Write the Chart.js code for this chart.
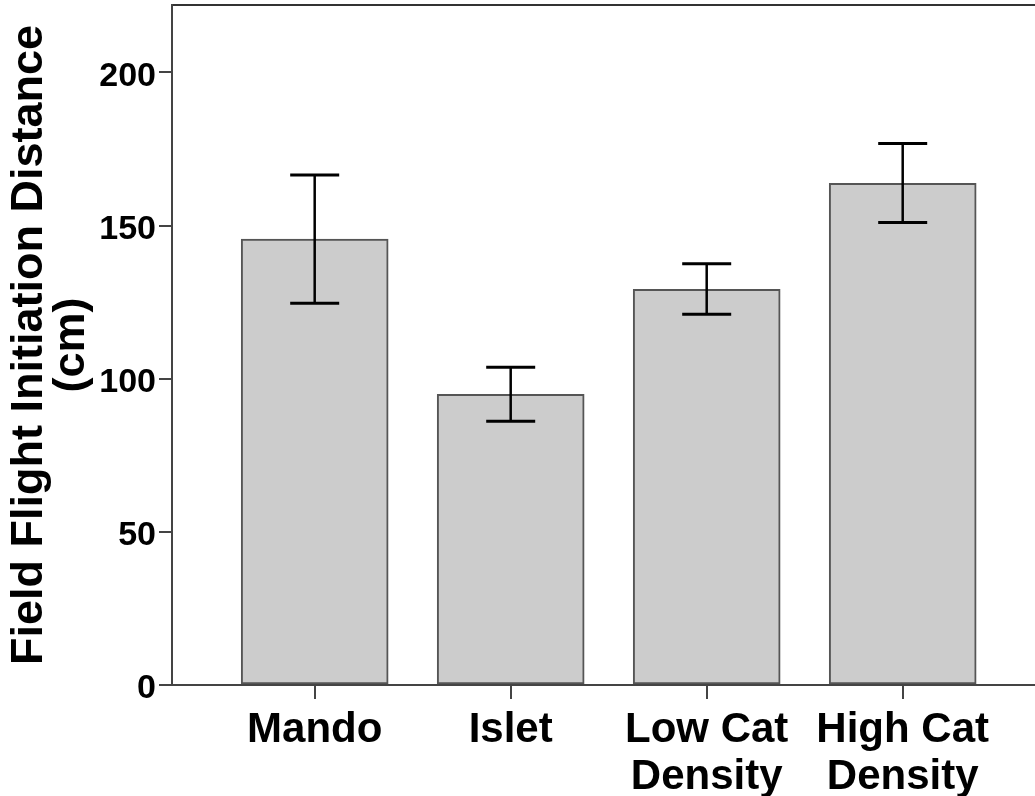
<!DOCTYPE html>
<html>
<head>
<meta charset="utf-8">
<script src="https://cdn.jsdelivr.net/npm/chart.js@4.4.1/dist/chart.umd.min.js"></script>
<style>
  html, body { margin: 0; padding: 0; background: #fff; overflow: hidden; }
  canvas { display: block; }
</style>
</head>
<body>
<canvas id="fid" width="1035" height="796"></canvas>
<script>
// Flight initiation distance by site group (mean with interval bounds)
const categories = ['Mando', 'Islet', ['Low Cat', 'Density'], ['High Cat', 'Density']];
const meanFID = [145.6, 94.9, 129.2, 163.8];
const ciLower = [124.6, 86.1, 121.0, 151.0];
const ciUpper = [166.5, 103.7, 137.5, 176.8];
const yTicks = [0, 50, 100, 150, 200];
const yTitle = ['Field Flight Initiation Distance', '(cm)'];

const FONT = "'Liberation Sans', Arial, Helvetica, sans-serif";
const AXIS_COLOR = '#444';

// Whiskers with caps, placed through the chart's own scales
const errorBars = {
  id: 'errorBars',
  afterDatasetsDraw(chart) {
    const { ctx, scales: { x, y } } = chart;
    const half = 24.5;
    ctx.save();
    ctx.strokeStyle = '#000';
    ctx.lineCap = 'butt';
    meanFID.forEach((_, i) => {
      const px = x.getPixelForValue(i);
      const top = y.getPixelForValue(ciUpper[i]);
      const bot = y.getPixelForValue(ciLower[i]);
      ctx.lineWidth = 2.5;
      ctx.beginPath();
      ctx.moveTo(px, top);
      ctx.lineTo(px, bot);
      ctx.stroke();
      ctx.lineWidth = 3;
      ctx.beginPath();
      ctx.moveTo(px - half, top);
      ctx.lineTo(px + half, top);
      ctx.moveTo(px - half, bot);
      ctx.lineTo(px + half, bot);
      ctx.stroke();
    });
    ctx.restore();
  }
};

new Chart(document.getElementById('fid'), {
  type: 'bar',
  data: {
    datasets: [{
      data: meanFID.map((v, i) => ({ x: i, y: v })),
      backgroundColor: '#cccccc',
      borderColor: '#555555',
      borderWidth: 2,
      borderSkipped: false,
      barThickness: 147
    }]
  },
  options: {
    responsive: false,
    animation: false,
    events: [],
    layout: { padding: { top: 5, right: 0, bottom: 0, left: 0 } },
    plugins: {
      legend: { display: false },
      tooltip: { enabled: false }
    },
    scales: {
      x: {
        type: 'linear',
        position: 'bottom',
        offset: false,
        min: -0.728,
        max: 3.675,
        afterBuildTicks(scale) {
          scale.ticks = categories.map((_, i) => ({ value: i }));
        },
        afterFit(scale) {
          scale.height = 111;
          scale.paddingLeft = 0;
          scale.paddingRight = 0;
        },
        grid: {
          display: true,
          offset: false,
          drawOnChartArea: false,
          drawTicks: true,
          tickLength: 14,
          color: AXIS_COLOR,
          lineWidth: 2
        },
        border: { display: true, color: AXIS_COLOR, width: 2 },
        ticks: {
          autoSkip: false,
          maxRotation: 0,
          minRotation: 0,
          padding: 8,
          color: '#000',
          font: { family: FONT, size: 42, weight: 'bold', lineHeight: 1.12 },
          callback: (v) => categories[v]
        }
      },
      xTop: {
        type: 'linear',
        position: 'top',
        offset: false,
        min: -0.728,
        max: 3.675,
        display: true,
        afterFit(scale) {
          scale.height = 0;
          scale.paddingLeft = 0;
          scale.paddingRight = 0;
        },
        grid: { display: false, drawTicks: false, offset: false },
        ticks: { display: false },
        border: { display: true, color: '#333', width: 2 }
      },
      y: {
        type: 'linear',
        position: 'left',
        min: 0,
        max: 222,
        afterBuildTicks(scale) {
          scale.ticks = yTicks.map(v => ({ value: v }));
        },
        afterFit(scale) {
          scale.width = 172;
          scale.paddingTop = 0;
          scale.paddingBottom = 0;
        },
        grid: {
          display: true,
          drawOnChartArea: false,
          drawTicks: true,
          tickLength: 13,
          color: AXIS_COLOR,
          lineWidth: 2
        },
        border: { display: true, color: AXIS_COLOR, width: 2 },
        ticks: {
          padding: 3,
          labelOffset: 4,
          color: '#000',
          font: { family: FONT, size: 34, weight: 'bold' }
        },
        title: {
          display: true,
          text: yTitle,
          color: '#000',
          padding: { top: 8, bottom: 0 },
          font: { family: FONT, size: 45, weight: 'bold', lineHeight: 0.94 }
        }
      }
    }
  },
  plugins: [errorBars]
});
</script>
</body>
</html>
